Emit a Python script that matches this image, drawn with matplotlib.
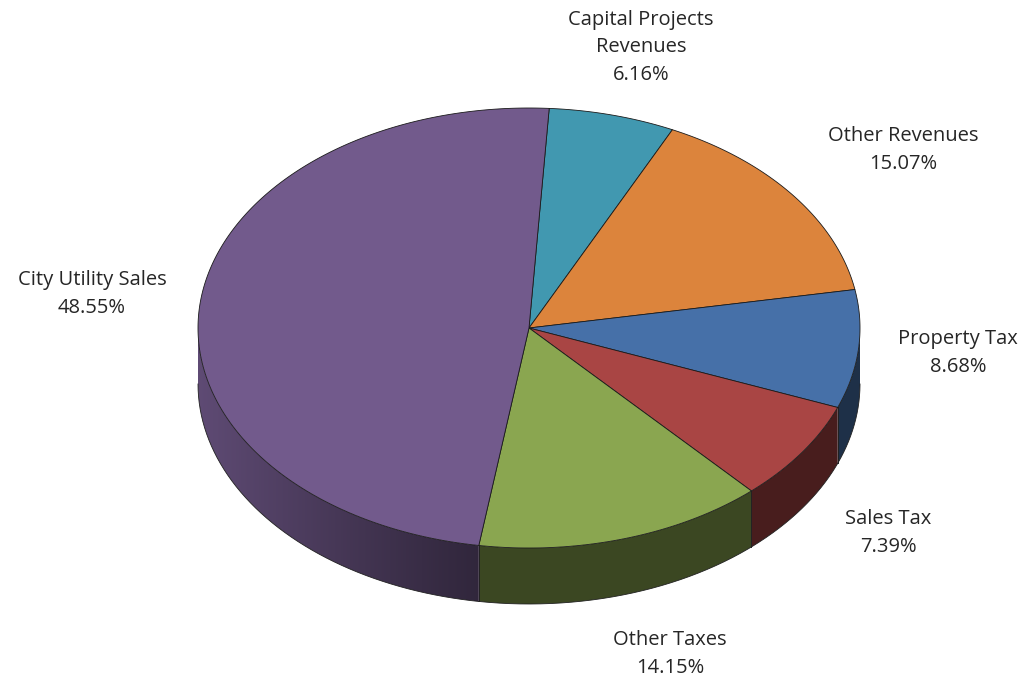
import numpy as np
import matplotlib
matplotlib.use("Agg")
import matplotlib.pyplot as plt
from matplotlib.patches import Polygon

labels = ["Capital Projects\nRevenues", "Other Revenues", "Property Tax",
          "Sales Tax", "Other Taxes", "City Utility Sales"]
shares = [6.16, 15.07, 8.68, 7.39, 14.15, 48.55]
colors = ["#4198b0", "#dc843c", "#4670a8", "#a94544", "#8aa650", "#725a8c"]
label_pos = [(641, 47), (903, 150), (958, 353), (888, 533), (670, 654), (92, 294)]

# pie geometry in pixel space
cx, cy = 529, 328
rx, ry = 331, 220
depth = 56
start = 86.5

fig = plt.figure(figsize=(10.34, 6.83), dpi=100)
ax = fig.add_axes([0, 0, 1, 1])
ax.set_xlim(0, 1034)
ax.set_ylim(683, 0)
ax.axis("off")


def rim(t1, t2, n=200):
    t = np.radians(np.linspace(t1, t2, n))
    return cx + rx * np.cos(t), cy - ry * np.sin(t)


def shade(x):
    f = np.clip((480 - x) / 282.0, 0, 1)
    return 0.43 + 0.40 * f ** 1.1


bounds = start - 360 * np.concatenate([[0], np.cumsum(shares)]) / 100.0

# side walls: only the front half (-180..0) shows
for i, col in enumerate(colors):
    a, b = bounds[i], bounds[i + 1]
    lo, hi = b, a
    while hi > 0:
        lo -= 360
        hi -= 360
    lo2, hi2 = max(lo, -180), min(hi, 0)
    if lo2 >= hi2:
        lo2, hi2 = max(lo + 360, -180), min(hi + 360, 0)
        if lo2 >= hi2:
            continue
    xs, ys = rim(lo2, hi2)
    pts = np.column_stack([np.r_[xs, xs[::-1]], np.r_[ys, ys[::-1] + depth]])
    wall = Polygon(pts, closed=True, facecolor="none", edgecolor="none")
    ax.add_patch(wall)
    # horizontal gradient, clipped to the wall outline
    x0, x1 = xs.min() - 2, xs.max() + 2
    y0, y1 = ys.min() - 2, ys.max() + depth + 2
    gx = np.linspace(x0, x1, 400)
    base = np.array(matplotlib.colors.to_rgb(col))
    grad = np.clip(base[None, :] * shade(gx)[:, None], 0, 1)[None, :, :]
    im = ax.imshow(grad, extent=[x0, x1, y1, y0], aspect="auto",
                   interpolation="bilinear", zorder=1)
    im.set_clip_path(wall)
    ax.plot(xs, ys + depth, color="#222222", lw=0.6, zorder=2)
    for s in (lo2, hi2):
        if -180 < s < 0:
            xe, ye = rim(s, s, 1)
            ax.plot([xe[0], xe[0]], [ye[0], ye[0] + depth], color="#222222",
                    lw=0.6, zorder=2)

# top faces
for i, col in enumerate(colors):
    a, b = bounds[i], bounds[i + 1]
    xs, ys = rim(a, b, 300)
    pts = np.column_stack([np.r_[cx, xs], np.r_[cy, ys]])
    ax.add_patch(Polygon(pts, closed=True, facecolor=col, edgecolor="#1a1a1a",
                         lw=0.6, joinstyle="round", zorder=3))

for lab, v, (x, y) in zip(labels, shares, label_pos):
    ax.text(x, y, f"{lab}\n{v:.2f}%", ha="center", va="center",
            fontsize=14.5, family="Open Sans", color="#262626", linespacing=1.5)

ax.set_xlim(0, 1034)
ax.set_ylim(683, 0)
fig.savefig("out.png", dpi=100)
